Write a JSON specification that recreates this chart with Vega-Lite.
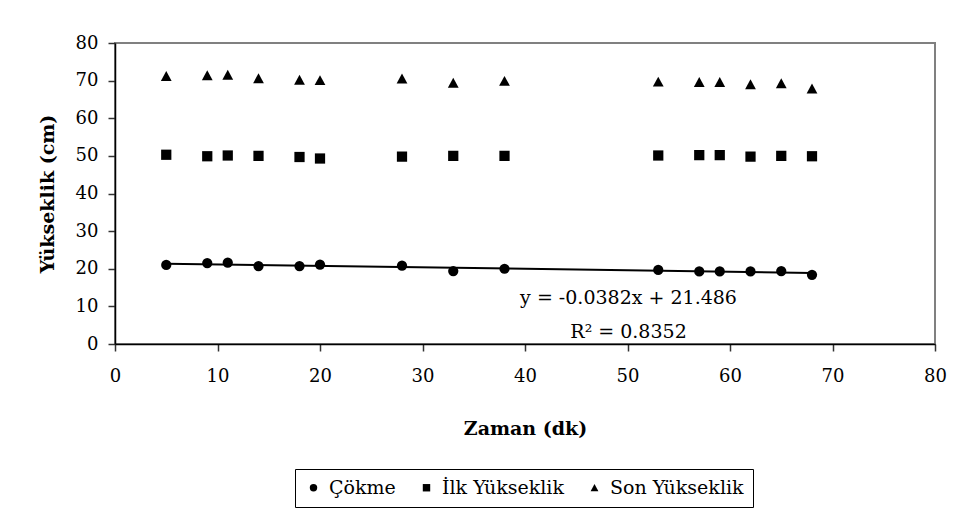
{
  "$schema": "https://vega.github.io/schema/vega-lite/v6.json",
  "width": 820,
  "height": 301,
  "autosize": {"type": "none"},
  "padding": {"left": 115, "top": 43, "right": 28, "bottom": 171},
  "background": "white",
  "config": {
    "font": "DejaVu Serif",
    "view": {"stroke": "#808080", "strokeWidth": 2},
    "text": {"font": "DejaVu Serif"},
    "axis": {"grid": false, "domainColor": "black", "domainWidth": 1.5, "tickColor": "#333333", "tickWidth": 1.5, "tickSize": 7, "labelColor": "black", "titleColor": "black", "titleFontWeight": "bold"}
  },
  "datasets": {
    "pts": [
      {"zaman": 5, "seri": "Çökme", "yukseklik": 21.0},
      {"zaman": 9, "seri": "Çökme", "yukseklik": 21.5},
      {"zaman": 11, "seri": "Çökme", "yukseklik": 21.6},
      {"zaman": 14, "seri": "Çökme", "yukseklik": 20.7},
      {"zaman": 18, "seri": "Çökme", "yukseklik": 20.7},
      {"zaman": 20, "seri": "Çökme", "yukseklik": 21.1},
      {"zaman": 28, "seri": "Çökme", "yukseklik": 20.8},
      {"zaman": 33, "seri": "Çökme", "yukseklik": 19.4},
      {"zaman": 38, "seri": "Çökme", "yukseklik": 20.0},
      {"zaman": 53, "seri": "Çökme", "yukseklik": 19.7},
      {"zaman": 57, "seri": "Çökme", "yukseklik": 19.3},
      {"zaman": 59, "seri": "Çökme", "yukseklik": 19.3},
      {"zaman": 62, "seri": "Çökme", "yukseklik": 19.3},
      {"zaman": 65, "seri": "Çökme", "yukseklik": 19.4},
      {"zaman": 68, "seri": "Çökme", "yukseklik": 18.4},
      {"zaman": 5, "seri": "İlk Yükseklik", "yukseklik": 50.3},
      {"zaman": 9, "seri": "İlk Yükseklik", "yukseklik": 49.9},
      {"zaman": 11, "seri": "İlk Yükseklik", "yukseklik": 50.1},
      {"zaman": 14, "seri": "İlk Yükseklik", "yukseklik": 50.0},
      {"zaman": 18, "seri": "İlk Yükseklik", "yukseklik": 49.7},
      {"zaman": 20, "seri": "İlk Yükseklik", "yukseklik": 49.3},
      {"zaman": 28, "seri": "İlk Yükseklik", "yukseklik": 49.8},
      {"zaman": 33, "seri": "İlk Yükseklik", "yukseklik": 50.0},
      {"zaman": 38, "seri": "İlk Yükseklik", "yukseklik": 50.0},
      {"zaman": 53, "seri": "İlk Yükseklik", "yukseklik": 50.1},
      {"zaman": 57, "seri": "İlk Yükseklik", "yukseklik": 50.2},
      {"zaman": 59, "seri": "İlk Yükseklik", "yukseklik": 50.2},
      {"zaman": 62, "seri": "İlk Yükseklik", "yukseklik": 49.8},
      {"zaman": 65, "seri": "İlk Yükseklik", "yukseklik": 50.0},
      {"zaman": 68, "seri": "İlk Yükseklik", "yukseklik": 49.9},
      {"zaman": 5, "seri": "Son Yükseklik", "yukseklik": 71.2},
      {"zaman": 9, "seri": "Son Yükseklik", "yukseklik": 71.4},
      {"zaman": 11, "seri": "Son Yükseklik", "yukseklik": 71.5},
      {"zaman": 14, "seri": "Son Yükseklik", "yukseklik": 70.6},
      {"zaman": 18, "seri": "Son Yükseklik", "yukseklik": 70.2},
      {"zaman": 20, "seri": "Son Yükseklik", "yukseklik": 70.1},
      {"zaman": 28, "seri": "Son Yükseklik", "yukseklik": 70.5},
      {"zaman": 33, "seri": "Son Yükseklik", "yukseklik": 69.4},
      {"zaman": 38, "seri": "Son Yükseklik", "yukseklik": 69.9},
      {"zaman": 53, "seri": "Son Yükseklik", "yukseklik": 69.7},
      {"zaman": 57, "seri": "Son Yükseklik", "yukseklik": 69.6},
      {"zaman": 59, "seri": "Son Yükseklik", "yukseklik": 69.6},
      {"zaman": 62, "seri": "Son Yükseklik", "yukseklik": 69.0},
      {"zaman": 65, "seri": "Son Yükseklik", "yukseklik": 69.3},
      {"zaman": 68, "seri": "Son Yükseklik", "yukseklik": 67.9}
    ],
    "labels": [
      {"zaman": 50.1, "yukseklik": 10.7, "metin": "y = -0.0382x + 21.486"},
      {"zaman": 50.1, "yukseklik": 1.7, "metin": "R² = 0.8352"}
    ]
  },
  "encoding": {
    "x": {"field": "zaman", "type": "quantitative", "scale": {"domain": [0, 80], "nice": false}, "axis": {"values": [0, 10, 20, 30, 40, 50, 60, 70, 80], "title": "Zaman (dk)", "labelFont": "DejaVu Serif", "labelFontSize": 18, "labelOverlap": false, "labelPadding": 16, "titlePadding": 34, "titleFont": "DejaVu Serif", "titleFontSize": 19, "labelFlush": false}},
    "y": {"field": "yukseklik", "type": "quantitative", "scale": {"domain": [0, 80], "nice": false}, "axis": {"values": [0, 10, 20, 30, 40, 50, 60, 70, 80], "title": "Yükseklik (cm)", "labelFont": "DejaVu Serif", "labelFontSize": 18, "labelOverlap": false, "labelPadding": 10, "titlePadding": 18, "titleFont": "DejaVu Serif", "titleFontSize": 19, "labelFlush": false}}
  },
  "layer": [
    {
      "data": {"name": "pts"},
      "mark": {"type": "point", "filled": true, "color": "black", "opacity": 1, "size": 105},
      "encoding": {
        "shape": {
          "field": "seri", "type": "nominal",
          "scale": {"domain": ["Çökme", "İlk Yükseklik", "Son Yükseklik"], "range": ["circle", "square", "M0,-1L1.05,0.95L-1.05,0.95Z"]},
          "legend": {
            "title": null, "orient": "none", "direction": "horizontal",
            "legendX": 180, "legendY": 426,
            "strokeColor": "black", "fillColor": "white", "padding": 9,
            "labelFont": "DejaVu Serif", "labelFontSize": 19, "labelColor": "black",
            "symbolSize": 55, "symbolFillColor": "black", "symbolStrokeColor": "black",
            "columnPadding": 21, "symbolOffset": 0, "labelOffset": 6
          }
        }
      }
    },
    {
      "data": {"name": "pts"},
      "transform": [
        {"filter": "datum.seri === 'Çökme'"},
        {"regression": "yukseklik", "on": "zaman", "extent": [5, 68]}
      ],
      "mark": {"type": "line", "color": "black", "strokeWidth": 2},
      "encoding": {}
    },
    {
      "data": {"name": "labels"},
      "mark": {"type": "text", "font": "DejaVu Serif", "fontSize": 19, "color": "black", "align": "center", "baseline": "alphabetic"},
      "encoding": {
        "text": {"field": "metin"}
      }
    }
  ]
}
